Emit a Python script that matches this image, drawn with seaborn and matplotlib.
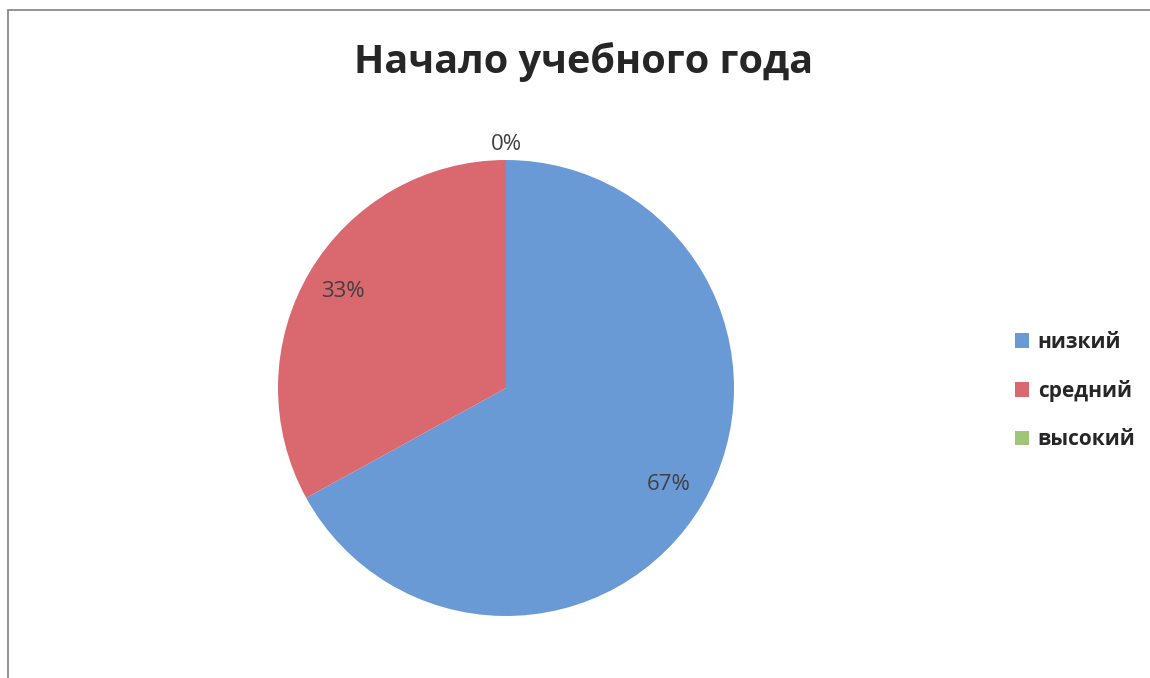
import numpy as np
import matplotlib
matplotlib.use("Agg")
import matplotlib.pyplot as plt
from matplotlib.lines import Line2D
import seaborn as sns

title = "Начало учебного года"
categories = ["низкий", "средний", "высокий"]
values = [67, 33, 0]
pct_labels = ["67%", "33%", "0%"]

sns.set_theme(style="white")
plt.rcParams['font.family'] = ['Open Sans', 'DejaVu Sans']

colors = sns.color_palette(["#6a9ad6", "#d9696f", "#9fc677"])

fig = plt.figure(figsize=(11.5, 6.78), dpi=100)
W, H = 1150, 678
cx, cy, r = 506, 388, 228
ax = fig.add_axes([(cx - r) / W, (H - cy - r) / H, 2 * r / W, 2 * r / H])
wedges, _ = ax.pie(values, colors=colors, startangle=90, counterclock=False,
                   radius=1, wedgeprops=dict(linewidth=0))
ax.set_xlim(-1, 1)
ax.set_ylim(-1, 1)
ax.set_aspect("equal")
ax.axis("off")

for w, lab, v in zip(wedges, pct_labels, values):
    ang = np.deg2rad((w.theta1 + w.theta2) / 2)
    d = 0.83 if v > 0 else 1.07
    ax.text(d * np.cos(ang), d * np.sin(ang), lab, ha="center", va="center",
            fontsize=16, color="#404040")

fig.text(584 / W, 1 - 62 / H, title, ha="center", va="center", fontsize=28.5,
         fontweight="bold", color="#262626")

leg = fig.legend(wedges, categories, loc="center left",
                 bbox_to_anchor=(996 / W, 1 - 391 / H), frameon=False,
                 handlelength=0.7, handleheight=0.7, handletextpad=0.4,
                 labelspacing=1.3, prop=dict(size=15, weight="bold"))
for t in leg.get_texts():
    t.set_color("#262626")

fig.add_artist(Line2D([8 / W, 8 / W], [0, 1 - 10 / H], transform=fig.transFigure,
                      color="#8a8a8a", lw=1.3))
fig.add_artist(Line2D([8 / W, 1], [1 - 10 / H, 1 - 10 / H], transform=fig.transFigure,
                      color="#8a8a8a", lw=1.3))

fig.savefig("out.png", dpi=100)
